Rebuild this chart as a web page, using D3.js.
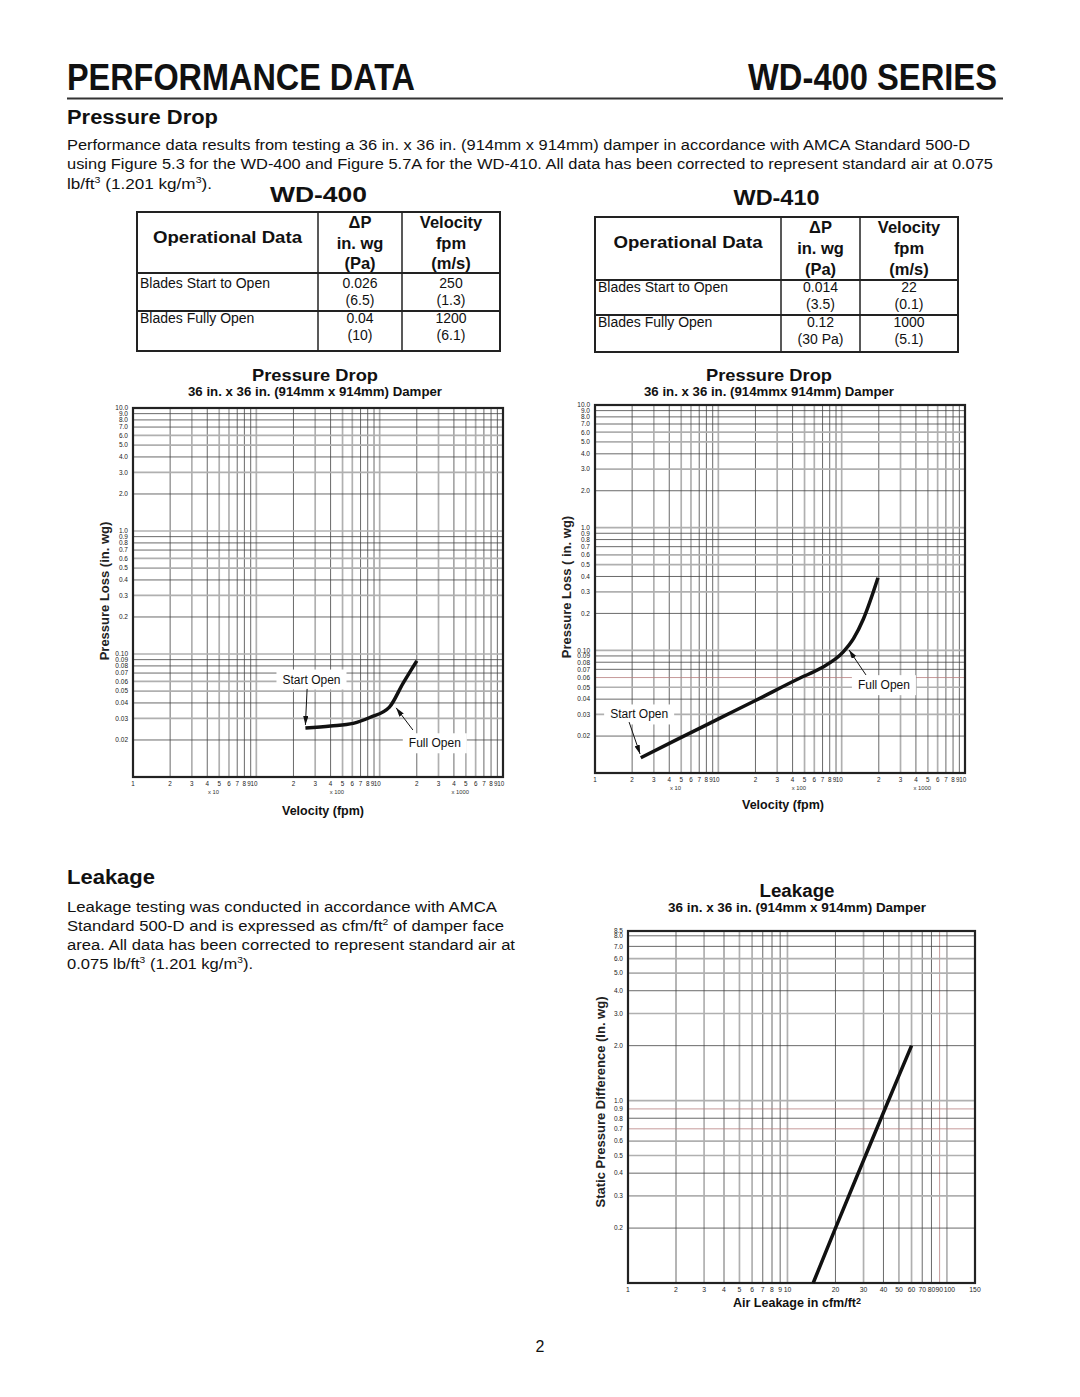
<!DOCTYPE html>
<html>
<head>
<meta charset="utf-8">
<script src="https://cdn.jsdelivr.net/npm/d3@7"></script>
<style>
body { margin: 0; background: #fff; }
svg { display: block; font-family: "Liberation Sans", Arial, Helvetica, sans-serif; }
</style>
</head>
<body>
<script>
// ---------- data ----------
var wd400Vel = [250, 400, 610, 840, 1200, 1550, 2000];          // fpm
var wd400Dp  = [0.025, 0.026, 0.0273, 0.0306, 0.037, 0.058, 0.088]; // in. wg
var wd410Vel = [23.5, 46, 103, 200, 460, 670, 1030, 1250, 1500, 1970];
var wd410Dp  = [0.0133, 0.0187, 0.028, 0.039, 0.0595, 0.071, 0.097, 0.125, 0.18, 0.39];
var leakCfm  = [14.5, 20, 30, 40, 50, 60];                      // cfm/ft2
var leakDp   = [0.1, 0.2, 0.47, 0.86, 1.37, 2.0];               // in. wg

// tick values + labels
var pdXTicks  = [10,20,30,40,50,60,70,80,90,100,200,300,400,500,600,700,800,900,1000,2000,3000,4000,5000,6000,7000,8000,9000,10000];
var pdXLabels = ["1","2","3","4","5","6","7","8","9","10","2","3","4","5","6","7","8","9","10","2","3","4","5","6","7","8","9","10"];
var pdXMult   = [45, 450, 4500];
var pdXMultLabels = ["x 10", "x 100", "x 1000"];
var pdYTicks  = [0.02,0.03,0.04,0.05,0.06,0.07,0.08,0.09,0.1,0.2,0.3,0.4,0.5,0.6,0.7,0.8,0.9,1,2,3,4,5,6,7,8,9,10];
var pdYLabels = ["0.02","0.03","0.04","0.05","0.06","0.07","0.08","0.09","0.10","0.2","0.3","0.4","0.5","0.6","0.7","0.8","0.9","1.0","2.0","3.0","4.0","5.0","6.0","7.0","8.0","9.0","10.0"];
var lkXTicks  = [1,2,3,4,5,6,7,8,9,10,20,30,40,50,60,70,80,90,100,150];
var lkXLabels = ["1","2","3","4","5","6","7","8","9","10","20","30","40","50","60","70","80","90","100","150"];
var lkYTicks  = [0.2,0.3,0.4,0.5,0.6,0.7,0.8,0.9,1,2,3,4,5,6,7,8,8.5];
var lkYLabels = ["0.2","0.3","0.4","0.5","0.6","0.7","0.8","0.9","1.0","2.0","3.0","4.0","5.0","6.0","7.0","8.0","8.5"];

// operational data tables
var wd400Rows = [["Blades Start to Open", "0.026", "(6.5)", "250", "(1.3)"],
                 ["Blades Fully Open", "0.04", "(10)", "1200", "(6.1)"]];
var wd410Rows = [["Blades Start to Open", "0.014", "(3.5)", "22", "(0.1)"],
                 ["Blades Fully Open", "0.12", "(30 Pa)", "1000", "(5.1)"]];

var W = 1080, H = 1397;
var svg = d3.select("body").append("svg").attr("width", W).attr("height", H);
svg.append("rect").attr("width", W).attr("height", H).attr("fill", "#fff");

svg.append("defs").append("marker")
  .attr("id", "arr").attr("viewBox", "0 0 10 6").attr("refX", 10).attr("refY", 3)
  .attr("markerWidth", 9).attr("markerHeight", 5.4).attr("markerUnits", "userSpaceOnUse")
  .attr("orient", "auto")
  .append("path").attr("d", "M0,0L10,3L0,6z").attr("fill", "#111");

function txt(x, y, s, size, weight, anchor, len) {
  var t = svg.append("text").attr("x", x).attr("y", y).text(s)
    .attr("font-size", size).attr("font-weight", weight || "normal")
    .attr("text-anchor", anchor || "start").attr("fill", "#111");
  if (len) t.attr("textLength", len).attr("lengthAdjust", "spacingAndGlyphs");
  return t;
}

// text with superscripts: parts = [[string, isSup], ...]
function rich(x, y, parts, size, len) {
  var t = svg.append("text").attr("x", x).attr("y", y).attr("font-size", size).attr("fill", "#111");
  var up = false;
  parts.forEach(function(p) {
    var ts = t.append("tspan").text(p[0]);
    if (p[1] && !up) { ts.attr("dy", -size * 0.38).attr("font-size", size * 0.62); up = true; }
    else if (!p[1] && up) { ts.attr("dy", size * 0.38); up = false; }
    else if (p[1]) ts.attr("font-size", size * 0.62);
  });
  if (len) t.attr("textLength", len).attr("lengthAdjust", "spacingAndGlyphs");
  return t;
}

// ---------- header ----------
txt(67, 90, "PERFORMANCE DATA", 36, "bold", "start", 348);
txt(997, 90, "WD-400 SERIES", 36, "bold", "end", 249);
svg.append("line").attr("x1", 67).attr("x2", 1003).attr("y1", 98.5).attr("y2", 98.5)
  .attr("stroke", "#333").attr("stroke-width", 2);
txt(67, 124, "Pressure Drop", 20, "bold", "start", 151);
txt(67, 150, "Performance data results from testing a 36 in. x 36 in. (914mm x 914mm) damper in accordance with AMCA Standard 500-D", 15.5, "normal", "start", 903);
txt(67, 169, "using Figure 5.3 for the WD-400 and Figure 5.7A for the WD-410. All data has been corrected to represent standard air at 0.075", 15.5, "normal", "start", 926);
rich(67, 189, [["lb/ft", false], ["3", true], [" (1.201 kg/m", false], ["3", true], [").", false]], 15.5, 145);

// ---------- tables ----------
function table(o) {
  var c = o.cols, r = o.rows;
  txt((c[0] + c[3]) / 2, o.titleY, o.title, 22, "bold", "middle", o.titleLen);
  svg.append("rect").attr("x", c[0]).attr("y", r[0]).attr("width", c[3] - c[0]).attr("height", r[3] - r[0])
    .attr("fill", "none").attr("stroke", "#222").attr("stroke-width", 2);
  [r[1], r[2]].forEach(function(yy) {
    svg.append("line").attr("x1", c[0]).attr("x2", c[3]).attr("y1", yy).attr("y2", yy)
      .attr("stroke", "#222").attr("stroke-width", 2);
  });
  [c[1], c[2]].forEach(function(xx) {
    svg.append("line").attr("x1", xx).attr("x2", xx).attr("y1", r[0]).attr("y2", r[3])
      .attr("stroke", "#222").attr("stroke-width", 1.5);
  });
  var h = o.head;
  txt((c[0] + c[1]) / 2, h[1], "Operational Data", 17, "bold", "middle", 149);
  txt((c[1] + c[2]) / 2, h[0], "\u0394P", 16.5, "bold", "middle");
  txt((c[1] + c[2]) / 2, h[1] + 6, "in. wg", 16.5, "bold", "middle");
  txt((c[1] + c[2]) / 2, h[2], "(Pa)", 16.5, "bold", "middle");
  txt((c[2] + c[3]) / 2, h[0], "Velocity", 16.5, "bold", "middle");
  txt((c[2] + c[3]) / 2, h[1] + 6, "fpm", 16.5, "bold", "middle");
  txt((c[2] + c[3]) / 2, h[2], "(m/s)", 16.5, "bold", "middle");
  o.data.forEach(function(row, i) {
    var y0 = o.rowY[i];
    txt(c[0] + 3, y0, row[0], 14);
    txt((c[1] + c[2]) / 2, y0, row[1], 14, "normal", "middle");
    txt((c[1] + c[2]) / 2, y0 + 17, row[2], 14, "normal", "middle");
    txt((c[2] + c[3]) / 2, y0, row[3], 14, "normal", "middle");
    txt((c[2] + c[3]) / 2, y0 + 17, row[4], 14, "normal", "middle");
  });
}
table({ title: "WD-400", titleY: 202, titleLen: 97, cols: [137, 318, 402, 500], rows: [212, 273, 311, 351],
        head: [228, 243, 269], rowY: [288, 323], data: wd400Rows });
table({ title: "WD-410", titleY: 205, titleLen: 86, cols: [595, 781, 860, 958], rows: [217, 280, 315, 352],
        head: [233, 248, 275], rowY: [292, 327], data: wd410Rows });

// ---------- log-log charts ----------
function lead(v) {
  var e = Math.floor(Math.log10(v) + 1e-9);
  return Math.round(v / Math.pow(10, e));
}
function gridStyle(v, accent) {
  if (accent && accent.indexOf(v) >= 0) return ["#b88080", 0.8];
  var l = lead(v);
  return ([1, 3, 5, 6].indexOf(l) >= 0) ? ["#b0b0b0", 1.7] : ["#444", 0.8];
}

function chart(o) {
  var x = d3.scaleLog().domain(o.xDomain).range([o.left, o.left + o.width]);
  var y = d3.scaleLog().domain(o.yDomain).range([o.top + o.height, o.top]);
  var g = svg.append("g");
  var xd = o.xDomain, yd = o.yDomain;

  // grid
  g.selectAll(".vg").data(o.xTicks.filter(function(v) { return v > xd[0] && v < xd[1]; }))
    .enter().append("line")
    .attr("x1", function(d) { return x(d); }).attr("x2", function(d) { return x(d); })
    .attr("y1", o.top).attr("y2", o.top + o.height)
    .attr("stroke", function(d) { return gridStyle(d, o.accentX)[0]; })
    .attr("stroke-width", function(d) { return gridStyle(d, o.accentX)[1]; });
  g.selectAll(".hg").data(o.yTicks.filter(function(v) { return v > yd[0] && v < yd[1]; }))
    .enter().append("line")
    .attr("y1", function(d) { return y(d); }).attr("y2", function(d) { return y(d); })
    .attr("x1", o.left).attr("x2", o.left + o.width)
    .attr("stroke", function(d) { return gridStyle(d, o.accentY)[0]; })
    .attr("stroke-width", function(d) { return gridStyle(d, o.accentY)[1]; });

  // frame
  g.append("rect").attr("x", o.left).attr("y", o.top).attr("width", o.width).attr("height", o.height)
    .attr("fill", "none").attr("stroke", "#222").attr("stroke-width", 2.2);

  // tick labels
  g.selectAll(".yl").data(o.yTicks).enter().append("text")
    .attr("x", o.left - 5).attr("y", function(d) { return y(d) + 2.3; })
    .attr("text-anchor", "end").attr("font-size", 6.5).attr("fill", "#222")
    .text(function(d, i) { return o.yLabels[i]; });
  // crowded pairs at the end of each decade are pushed apart like the print does
  var xa = o.xAdjust || {};
  g.selectAll(".xl").data(o.xTicks).enter().append("text")
    .attr("x", function(d, i) { var a = xa[o.xLabels[i]]; return x(d) + (a ? a[1] : 0); })
    .attr("y", o.top + o.height + 9)
    .attr("text-anchor", function(d, i) { var a = xa[o.xLabels[i]]; return a ? a[0] : "middle"; })
    .attr("font-size", o.xFont || 6.3).attr("fill", "#222")
    .text(function(d, i) { return o.xLabels[i]; });
  if (o.mult) {
    g.selectAll(".ml").data(o.mult).enter().append("text")
      .attr("x", function(d) { return x(d); }).attr("y", o.top + o.height + 17)
      .attr("text-anchor", "middle").attr("font-size", 5.8).attr("fill", "#333")
      .text(function(d, i) { return o.multLabels[i]; });
  }

  // titles
  txt(o.cx, o.titleY, o.title, o.titleSize, "bold", "middle", o.titleLen);
  txt(o.cx, o.titleY + 15, o.subtitle, 12, "bold", "middle", o.subLen);
  svg.append("text").attr("transform", "translate(" + o.yTitleX + "," + o.yTitleY + ") rotate(-90)")
    .attr("text-anchor", "middle").attr("font-size", 13).attr("font-weight", "bold").attr("fill", "#222")
    .text(o.yTitle);
  var xt = txt(o.xTitleX, o.xTitleY, "", 12.5, "bold", "middle");
  o.xTitle.forEach(function(p) {
    var ts = xt.append("tspan").text(p[0]);
    if (p[1]) ts.attr("font-size", 9).attr("dy", -3);
  });

  // annotations (label boxes knock out the grid)
  (o.notes || []).forEach(function(n) {
    var t = g.append("text").attr("x", x(n.at[0])).attr("y", y(n.at[1]) + 4)
      .attr("text-anchor", "middle").attr("font-size", 12).attr("fill", "#111").text(n.label);
    var bb = t.node().getBBox();
    g.insert("rect", function() { return t.node(); })
      .attr("x", bb.x - 6).attr("y", bb.y - 3).attr("width", bb.width + 12).attr("height", bb.height + 6)
      .attr("fill", "#fff");
    g.append("line")
      .attr("x1", x(n.from[0])).attr("y1", y(n.from[1]))
      .attr("x2", x(n.to[0])).attr("y2", y(n.to[1]))
      .attr("stroke", "#111").attr("stroke-width", 1).attr("marker-end", "url(#arr)");
  });

  // curve
  var pts = o.xs.map(function(v, i) { return [v, o.ys[i]]; });
  g.append("path").datum(pts)
    .attr("d", d3.line().x(function(d) { return x(d[0]); }).y(function(d) { return y(d[1]); })
      .curve(d3.curveMonotoneX))
    .attr("fill", "none").attr("stroke", "#111").attr("stroke-width", 3.5);
}

var pdAdjust = { "9": ["end", 0.2], "10": ["end", 1.2] };

chart({
  left: 133, top: 408, width: 370, height: 369,
  xDomain: [10, 10000], yDomain: [0.01, 10],
  xTicks: pdXTicks, xLabels: pdXLabels, yTicks: pdYTicks, yLabels: pdYLabels,
  mult: pdXMult, multLabels: pdXMultLabels, xAdjust: pdAdjust,
  cx: 315, titleY: 381, title: "Pressure Drop", titleSize: 17, titleLen: 126,
  subtitle: "36 in. x 36 in. (914mm x 914mm) Damper", subLen: 254,
  yTitle: "Pressure Loss (in. wg)", yTitleX: 109, yTitleY: 591,
  xTitle: [["Velocity (fpm)", false]], xTitleX: 323, xTitleY: 815,
  xs: wd400Vel, ys: wd400Dp,
  notes: [
    { label: "Start Open", at: [280, 0.062], from: [258, 0.052], to: [250, 0.0265] },
    { label: "Full Open", at: [2800, 0.0188], from: [1860, 0.0241], to: [1360, 0.0365] }
  ]
});

chart({
  left: 595, top: 405, width: 370, height: 368,
  xDomain: [10, 10000], yDomain: [0.01, 10],
  xTicks: pdXTicks, xLabels: pdXLabels, yTicks: pdYTicks, yLabels: pdYLabels,
  mult: pdXMult, multLabels: pdXMultLabels, xAdjust: pdAdjust, accentY: [0.06],
  cx: 769, titleY: 381, title: "Pressure Drop", titleSize: 17, titleLen: 126,
  subtitle: "36 in. x 36 in. (914mmx 914mm) Damper", subLen: 250,
  yTitle: "Pressure Loss ( in. wg)", yTitleX: 571, yTitleY: 587,
  xTitle: [["Velocity (fpm)", false]], xTitleX: 783, xTitleY: 809,
  xs: wd410Vel, ys: wd410Dp,
  notes: [
    { label: "Start Open", at: [22.8, 0.030], from: [18.9, 0.026], to: [23.2, 0.0143] },
    { label: "Full Open", at: [2200, 0.052], from: [1574, 0.063], to: [1148, 0.1007] }
  ]
});

// ---------- leakage ----------
txt(67, 884, "Leakage", 20, "bold", "start", 88);
txt(67, 912, "Leakage testing was conducted in accordance with AMCA", 15.5, "normal", "start", 430);
rich(67, 931, [["Standard 500-D and is expressed as cfm/ft", false], ["2", true], [" of damper face", false]], 15.5, 437);
txt(67, 950, "area. All data has been corrected to represent standard air at", 15.5, "normal", "start", 448);
rich(67, 969, [["0.075 lb/ft", false], ["3", true], [" (1.201 kg/m", false], ["3", true], [").", false]], 15.5, 186);

chart({
  left: 628, top: 931, width: 347, height: 352,
  xDomain: [1, 150], yDomain: [0.1, 8.5],
  xTicks: lkXTicks, xLabels: lkXLabels, yTicks: lkYTicks, yLabels: lkYLabels,
  xFont: 6.8, accentY: [0.7, 0.9], accentX: [90],
  xAdjust: { "90": ["end", 3.5], "100": ["start", -3.2] },
  cx: 797, titleY: 897, title: "Leakage", titleSize: 18, titleLen: 75,
  subtitle: "36 in. x 36 in. (914mm x 914mm)  Damper", subLen: 258,
  yTitle: "Static Pressure Difference (In. wg)", yTitleX: 605, yTitleY: 1102,
  xTitle: [["Air Leakage in cfm/ft", false], ["2", true]], xTitleX: 797, xTitleY: 1307,
  xs: leakCfm, ys: leakDp
});

txt(540, 1352, "2", 16, "normal", "middle");
</script>
</body>
</html>
